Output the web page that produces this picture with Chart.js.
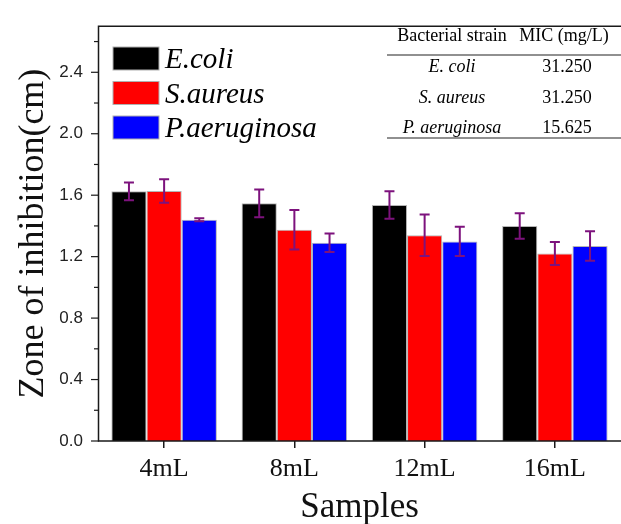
<!DOCTYPE html>
<html>
<head>
<meta charset="utf-8">
<script src="https://cdn.jsdelivr.net/npm/chart.js@4.4.0/dist/chart.umd.min.js"></script>
<style>
html, body { margin: 0; padding: 0; background: #fff; }
canvas { display: block; }
</style>
</head>
<body>
<canvas id="myChart" width="621" height="524"></canvas>
<script>
let samples = ['4mL', '8mL', '12mL', '16mL'];
let strains = ['E.coli', 'S.aureus', 'P.aeruginosa'];
let colorHex = ['#000000', '#ff0000', '#0000ff'];
let ecoliZone = [1.625, 1.547, 1.536, 1.399];
let saureusZone = [1.627, 1.375, 1.339, 1.221];
let paerugZone = [1.44, 1.291, 1.299, 1.269];
let ecoliErr = [0.058, 0.09, 0.09, 0.083];
let saureusErr = [0.077, 0.128, 0.135, 0.075];
let paerugErr = [0.01, 0.06, 0.095, 0.096];
let yTicks = [0, 0.2, 0.4, 0.6, 0.8, 1.0, 1.2, 1.4, 1.6, 1.8, 2.0, 2.2, 2.4, 2.6];
let micHeader = ['Bacterial strain', 'MIC (mg/L)'];
let micStrains = ['E. coli', 'S. aureus', 'P. aeruginosa'];
let micValues = ['31.250', '31.250', '15.625'];

let serif = "'Liberation Serif', 'Times New Roman', serif";
let sans = "'Liberation Sans', Arial, sans-serif";
let errColor = '#7d127d';
let frameColor = '#1a1a1a';

let isMajor = (v) => Math.abs(Math.round(v / 0.4) * 0.4 - v) < 1e-6;

// frame, y tick marks, error bars, legend and the MIC table
let extras = {
  id: 'extras',
  afterDatasetsDraw(chart) {
    let ctx = chart.ctx;
    let y = chart.scales.y;
    let errs = [ecoliErr, saureusErr, paerugErr];
    ctx.save();
    ctx.strokeStyle = errColor;
    ctx.lineWidth = 2;
    chart.data.datasets.forEach((ds, i) => {
      chart.getDatasetMeta(i).data.forEach((bar, j) => {
        let top = y.getPixelForValue(ds.data[j] + errs[i][j]);
        let bot = y.getPixelForValue(ds.data[j] - errs[i][j]);
        ctx.beginPath();
        ctx.moveTo(bar.x, top); ctx.lineTo(bar.x, bot);
        ctx.moveTo(bar.x - 5, top); ctx.lineTo(bar.x + 5, top);
        ctx.moveTo(bar.x - 5, bot); ctx.lineTo(bar.x + 5, bot);
        ctx.stroke();
      });
    });
    ctx.restore();
  },
  afterDraw(chart) {
    let ctx = chart.ctx;
    let a = chart.chartArea;
    let y = chart.scales.y;
    ctx.save();
    ctx.strokeStyle = frameColor;
    ctx.lineWidth = 1.5;
    ctx.beginPath();
    ctx.moveTo(a.right + 2, a.top);
    ctx.lineTo(a.left - 0.5, a.top);
    ctx.lineTo(a.left - 0.5, a.bottom);
    ctx.lineTo(a.right + 2, a.bottom);
    ctx.stroke();

    ctx.lineWidth = 1.2;
    yTicks.forEach((v) => {
      let py = y.getPixelForValue(v);
      let len = isMajor(v) ? 8 : 5;
      ctx.beginPath();
      ctx.moveTo(a.left - len, py);
      ctx.lineTo(a.left, py);
      ctx.stroke();
    });

    // legend
    strains.forEach((s, i) => {
      let by = 47 + i * 34.5;
      ctx.fillStyle = colorHex[i];
      ctx.fillRect(113, by, 46, 23);
      ctx.strokeStyle = '#b0b0b0';
      ctx.lineWidth = 1;
      ctx.strokeRect(113, by, 46, 23);
      ctx.fillStyle = '#000';
      ctx.font = 'italic 29px ' + serif;
      ctx.textAlign = 'left';
      ctx.textBaseline = 'alphabetic';
      ctx.fillText(s, 165, by + 21);
    });

    // MIC table
    ctx.fillStyle = '#000';
    ctx.textAlign = 'center';
    ctx.font = '18px ' + serif;
    ctx.fillText(micHeader[0], 452, 41);
    ctx.fillText(micHeader[1], 564, 41);
    ctx.strokeStyle = '#222';
    ctx.lineWidth = 1.2;
    ctx.beginPath();
    ctx.moveTo(387, 55); ctx.lineTo(621, 55);
    ctx.moveTo(387, 138); ctx.lineTo(621, 138);
    ctx.stroke();
    micStrains.forEach((s, i) => {
      let by = 72 + i * 30.5;
      ctx.font = 'italic 18px ' + serif;
      ctx.fillText(s, 452, by);
      ctx.font = '18px ' + serif;
      ctx.fillText(micValues[i], 567, by);
    });
    ctx.restore();
  }
};

let ctx = document.getElementById('myChart').getContext('2d');
let myChart = new Chart(ctx, {
  type: 'bar',
  data: {
    labels: samples,
    datasets: [
      { label: strains[0], data: ecoliZone, backgroundColor: colorHex[0] },
      { label: strains[1], data: saureusZone, backgroundColor: colorHex[1] },
      { label: strains[2], data: paerugZone, backgroundColor: colorHex[2] }
    ]
  },
  options: {
    responsive: false,
    animation: false,
    layout: { padding: { top: 14, right: 1, left: 0, bottom: 0 } },
    datasets: {
      bar: {
        categoryPercentage: 0.81,
        barPercentage: 1.0,
        borderWidth: 1,
        borderColor: '#b5b5b5'
      }
    },
    plugins: {
      legend: { display: false },
      tooltip: { enabled: false }
    },
    scales: {
      x: {
        border: { display: false },
        grid: {
          offset: false,
          drawOnChartArea: false,
          tickLength: 7,
          color: frameColor,
          lineWidth: 1.5
        },
        ticks: {
          color: '#111',
          padding: 6,
          font: { family: serif, size: 26 }
        },
        title: {
          display: true,
          text: 'Samples',
          color: '#111',
          padding: { bottom: -1 },
          font: { family: serif, size: 35, lineHeight: 1 }
        },
        afterFit: (scale) => { scale.height = 83; }
      },
      y: {
        min: 0,
        max: 2.7,
        border: { display: false },
        grid: { display: false, drawTicks: false },
        afterBuildTicks: (scale) => {
          scale.ticks = yTicks.map((v) => ({ value: v }));
        },
        ticks: {
          color: '#222',
          padding: 16,
          font: { family: sans, size: 17 },
          callback: (v) => isMajor(v) ? v.toFixed(1) : ''
        },
        title: {
          display: true,
          text: 'Zone of inhibition(cm)',
          color: '#111',
          padding: { top: 12 },
          font: { family: serif, size: 36 }
        },
        afterFit: (scale) => { scale.width = 99; }
      }
    }
  },
  plugins: [extras]
});
</script>
</body>
</html>
